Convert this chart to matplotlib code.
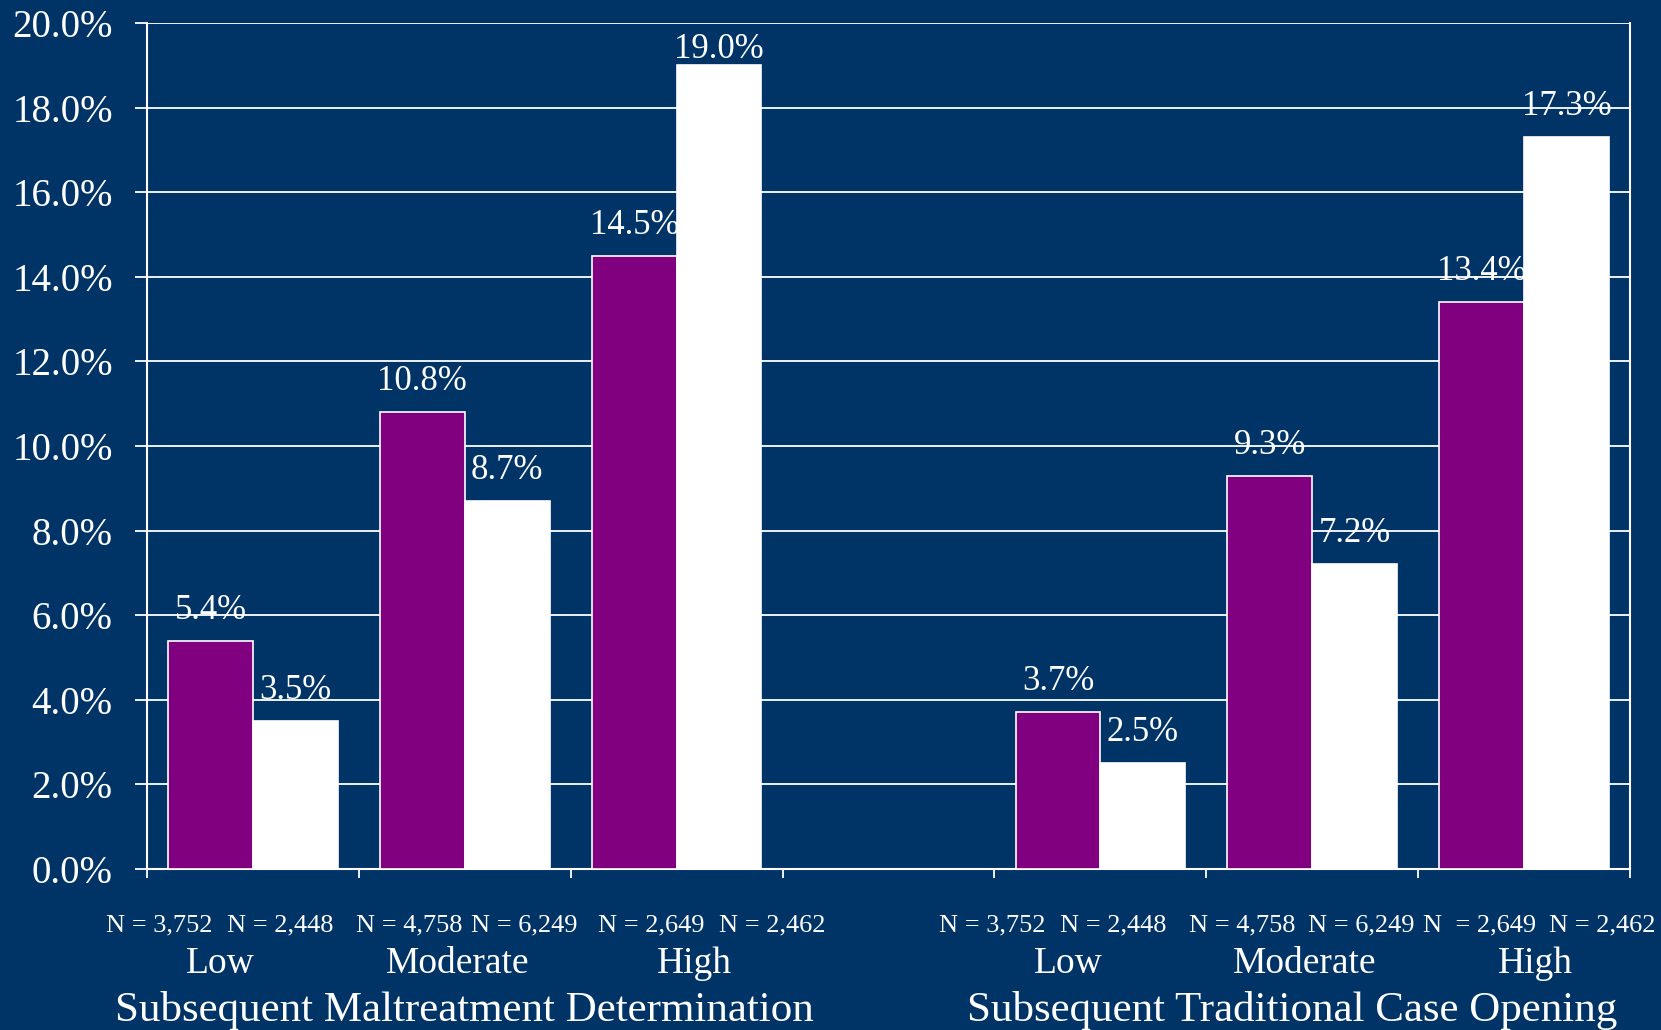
import matplotlib.pyplot as plt
import matplotlib.transforms as mtransforms
from matplotlib.ticker import PercentFormatter, MultipleLocator

# data
slots = [0, 1, 2, 4, 5, 6]          # slot 3 is left empty between the two groups
levels = ["Low", "Moderate", "High", "Low", "Moderate", "High"]
purple_vals = [5.4, 10.8, 14.5, 3.7, 9.3, 13.4]
white_vals = [3.5, 8.7, 19.0, 2.5, 7.2, 17.3]
n_purple = ["N = 3,752", "N = 4,758", "N = 2,649", "N = 3,752", "N = 4,758", "N  = 2,649"]
n_white = ["N = 2,448", "N = 6,249", "N = 2,462", "N = 2,448", "N = 6,249", "N = 2,462"]
group_titles = ["Subsequent Maltreatment Determination", "Subsequent Traditional Case Opening"]

# text placement (data x)
n_purple_x = [-0.44, 0.74, 1.88, 3.49, 4.67, 5.79]
n_white_x = [0.13, 1.28, 2.45, 4.06, 5.23, 6.37]
level_x = [-0.155, 0.966, 2.086, 3.847, 4.963, 6.053]
title_x = [0.996, 4.908]

bg = "#003366"
purple = "#800080"

plt.rcParams['font.family'] = ['Liberation Serif', 'DejaVu Serif']

fig = plt.figure(figsize=(16.61, 10.30), dpi=100, facecolor=bg)
ax = fig.add_axes([0.0885, 0.1563, 0.8928, 0.8214], facecolor=bg)

w = 0.4
xp = [s - w / 2 for s in slots]
xw = [s + w / 2 for s in slots]
ax.bar(xp, purple_vals, w, color=purple, edgecolor="white", linewidth=1.2, zorder=3)
ax.bar(xw, white_vals, w, color="white", edgecolor="white", linewidth=1.2, zorder=3)

for x, v in list(zip(xp, purple_vals)) + list(zip(xw, white_vals)):
    ax.text(x, min(v + 0.52, 19.17), f"{v:.1f}%", ha="center", va="baseline",
            color="white", fontsize=25, zorder=4)

ax.set_xlim(-0.5, 6.5)
ax.set_ylim(0, 20)
ax.yaxis.set_major_locator(MultipleLocator(2))
ax.yaxis.set_major_formatter(PercentFormatter(xmax=100, decimals=1))
ax.set_xticks([i - 0.5 for i in range(8)])
ax.set_xticklabels([])
ax.grid(axis="y", color="white", linewidth=1.3, zorder=1)

ax.tick_params(axis="y", colors="white", labelsize=28, length=8.6, width=1.3, pad=16)
ax.tick_params(axis="x", colors="white", length=6.5, width=1.3)
for side in ["left", "right", "bottom"]:
    ax.spines[side].set_color("white")
    ax.spines[side].set_linewidth(1.5)
ax.spines["top"].set_visible(False)

trans = mtransforms.blended_transform_factory(ax.transData, fig.transFigure)
for x, t in zip(n_purple_x, n_purple):
    ax.text(x, 0.0961, t, transform=trans, ha="center", va="baseline", color="white", fontsize=19)
for x, t in zip(n_white_x, n_white):
    ax.text(x, 0.0961, t, transform=trans, ha="center", va="baseline", color="white", fontsize=19)
for x, t in zip(level_x, levels):
    ax.text(x, 0.0558, t, transform=trans, ha="center", va="baseline", color="white", fontsize=27)
for x, t in zip(title_x, group_titles):
    ax.text(x, 0.0085, t, transform=trans, ha="center", va="baseline", color="white", fontsize=31)

fig.savefig("out.png", dpi=100, facecolor=bg)
